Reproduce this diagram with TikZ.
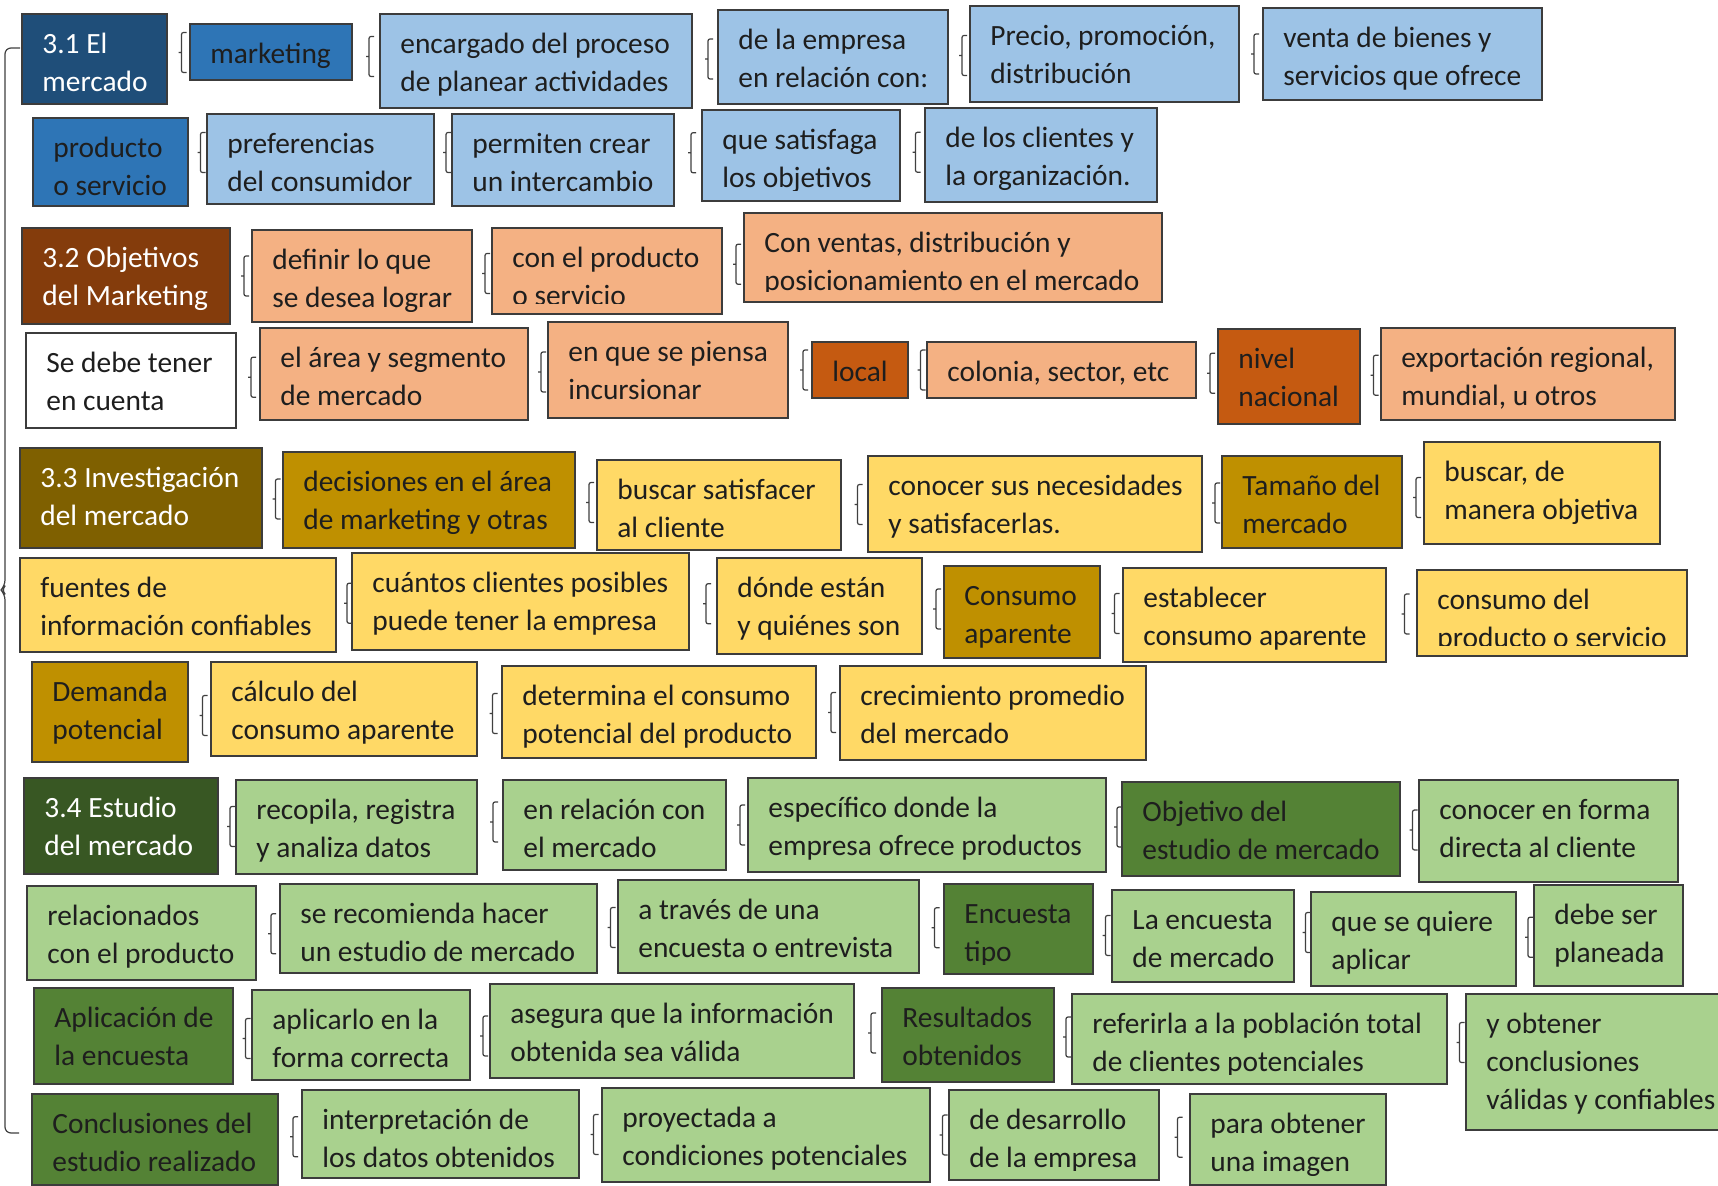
\documentclass[tikz,border=0pt]{standalone}
\usepackage{fontspec}
\setmainfont{Carlito}
\usetikzlibrary{fit,calc}
\definecolor{boxline}{HTML}{3C3C3C}
\definecolor{brccol}{HTML}{404040}
\definecolor{txtdark}{HTML}{1E1E1E}
\definecolor{c31}{HTML}{1F4E79}
\definecolor{cblue}{HTML}{2E75B6}
\definecolor{clblue}{HTML}{9DC3E6}
\definecolor{c32}{HTML}{843C0C}
\definecolor{corange}{HTML}{C55A11}
\definecolor{clorange}{HTML}{F4B183}
\definecolor{c33}{HTML}{7F6000}
\definecolor{cgold}{HTML}{BF9000}
\definecolor{cyellow}{HTML}{FFD966}
\definecolor{c34}{HTML}{385723}
\definecolor{cgreen}{HTML}{548235}
\definecolor{clgreen}{HTML}{A9D18E}
\tikzset{
  boxst/.style={draw=boxline, line width=1pt, inner sep=0pt},
  txtst/.style={anchor=north west, inner sep=0pt, align=left, font=\fontsize{14.7}{19}\selectfont},
  brcline/.style={draw=brccol, line width=0.6pt, rounded corners=1pt},
}
% \bx[textcolor]{name}{x1}{y1}{x2}{y2}{fill}{text}
\newcommand\bx[8][txtdark]{%
  \node[boxst, fill=#7, fit={(#3,#4) (#5,#6)}] (#2) {};
  \begin{scope}
    \clip (#3,#4) rectangle (#5,#6-10);
    \node[txtst, text=#1] (#2-t) at ($(#3,#4)+(20,12.5)$) {\strut #8};
  \end{scope}
}
% \brc[dy]{parent}{child}
\newcommand\brc[3][0]{%
  \draw[brcline] let \p1=(#2.east), \p2=(#3.west) in
    ({(\x1+\x2)/2+4pt},{(\y1+\y2)/2-(#1)*0.5pt+10pt}) --
    ({(\x1+\x2)/2+1.5pt},{(\y1+\y2)/2-(#1)*0.5pt+10pt}) --
    ({(\x1+\x2)/2+1.5pt},{(\y1+\y2)/2-(#1)*0.5pt-10pt}) --
    ({(\x1+\x2)/2+4pt},{(\y1+\y2)/2-(#1)*0.5pt-10pt})
    ({(\x1+\x2)/2},{(\y1+\y2)/2-(#1)*0.5pt}) --
    ({(\x1+\x2)/2+1.5pt},{(\y1+\y2)/2-(#1)*0.5pt});
}
\begin{document}
\begin{tikzpicture}[x=0.5pt,y=-0.5pt]
\fill[white] (0,0) rectangle (1718,1186);
\useasboundingbox (0,0) rectangle (1718,1186);
% Row 1
\bx[white]{a1}{22}{14}{167}{104}{c31}{3.1 El\\mercado}
\bx{a2}{190}{24}{352}{80}{cblue}{marketing}
\bx{a3}{380}{14}{692}{108}{clblue}{encargado del proceso\\de planear actividades}
\bx{a4}{718}{10}{948}{104}{clblue}{de la empresa\\en relación con:}
\bx{a5}{970}{6}{1239}{102}{clblue}{Precio, promoción,\\distribución}
\bx{a6}{1263}{8}{1542}{100}{clblue}{venta de bienes y\\servicios que ofrece}
% Row 2
\bx{b1}{33}{118}{188}{206}{cblue}{producto\\o servicio}
\bx{b2}{207}{114}{434}{204}{clblue}{preferencias\\del consumidor}
\bx{b3}{452}{114}{674}{206}{clblue}{permiten crear\\un intercambio}
\bx{b4}{702}{110}{900}{201}{clblue}{que satisfaga\\los objetivos}
\bx{b5}{925}{108}{1157}{202}{clblue}{de los clientes y\\la organización.}
% Row 3
\bx[white]{c1}{22}{228}{230}{324}{c32}{3.2 Objetivos\\del Marketing}
\bx{c2}{252}{230}{472}{322}{clorange}{definir lo que\\se desea lograr}
\bx{c3}{492}{228}{722}{314}{clorange}{con el producto\\o servicio}
\bx{c4}{744}{213}{1162}{302}{clorange}{Con ventas, distribución y\\posicionamiento en el mercado}
% Row 4
\bx{d1}{26}{333}{236}{428}{white}{Se debe tener\\en cuenta}
\bx{d2}{260}{328}{528}{420}{clorange}{el área y segmento\\de mercado}
\bx{d3}{548}{322}{788}{418}{clorange}{en que se piensa\\incursionar}
\bx{d4}{812}{342}{908}{398}{corange}{local}
\bx{d5}{927}{342}{1196}{398}{clorange}{colonia, sector, etc}
\bx{d6}{1218}{329}{1360}{424}{corange}{nivel\\nacional}
\bx{d7}{1381}{328}{1675}{420}{clorange}{exportación regional,\\mundial, u otros}
% Row 5
\bx[white]{e1}{20}{448}{262}{548}{c33}{3.3 Investigación\\del mercado}
\bx{e2}{283}{452}{575}{548}{cgold}{decisiones en el área\\de marketing y otras}
\bx{e3}{597}{460}{841}{550}{cyellow}{buscar satisfacer\\al cliente}
\bx{e4}{868}{456}{1202}{552}{cyellow}{conocer sus necesidades\\y satisfacerlas.}
\bx{e5}{1222}{456}{1402}{548}{cgold}{Tamaño del\\mercado}
\bx{e6}{1424}{442}{1660}{544}{cyellow}{buscar, de\\manera objetiva}
% Row 6
\bx{f1}{20}{558}{336}{652}{cyellow}{fuentes de\\información confiables}
\bx{f2}{352}{553}{689}{650}{cyellow}{cuántos clientes posibles\\puede tener la empresa}
\bx{f3}{717}{558}{922}{654}{cyellow}{dónde están\\y quiénes son}
\bx{f4}{944}{566}{1100}{658}{cgold}{Consumo\\aparente}
\bx{f5}{1123}{568}{1386}{662}{cyellow}{establecer\\consumo aparente}
\bx{f6}{1417}{570}{1687}{656}{cyellow}{consumo del\\producto o servicio}
% Row 7
\bx{g1}{32}{662}{188}{762}{cgold}{Demanda\\potencial}
\bx{g2}{211}{662}{477}{756}{cyellow}{cálculo del\\consumo aparente}
\bx{g3}{502}{666}{816}{758}{cyellow}{determina el consumo\\potencial del producto}
\bx{g4}{840}{666}{1146}{760}{cyellow}{crecimiento promedio\\del mercado}
% Row 8
\bx[white]{h1}{24}{778}{218}{874}{c34}{3.4 Estudio\\del mercado}
\bx{h2}{236}{780}{477}{874}{clgreen}{recopila, registra\\y analiza datos}
\bx{h3}{503}{780}{726}{870}{clgreen}{en relación con\\el mercado}
\bx{h4}{748}{778}{1106}{872}{clgreen}{específico donde la\\empresa ofrece productos}
\bx{h5}{1122}{782}{1400}{876}{cgreen}{Objetivo del\\estudio de mercado}
\bx{h6}{1419}{780}{1678}{882}{clgreen}{conocer en forma\\directa al cliente}
% Row 9
\bx{i1}{27}{886}{256}{980}{clgreen}{relacionados\\con el producto}
\bx{i2}{280}{884}{597}{973}{clgreen}{se recomienda hacer\\un estudio de mercado}
\bx{i3}{618}{880}{919}{973}{clgreen}{a través de una\\encuesta o entrevista}
\bx{i4}{944}{884}{1093}{974}{cgreen}{Encuesta\\tipo}
\bx{i5}{1112}{890}{1294}{982}{clgreen}{La encuesta\\de mercado}
\bx{i6}{1311}{892}{1516}{986}{clgreen}{que se quiere\\aplicar}
\bx{i7}{1534}{885}{1683}{986}{clgreen}{debe ser\\planeada}
% Row 10
\bx{j1}{34}{988}{233}{1084}{cgreen}{Aplicación de\\la encuesta}
\bx{j2}{252}{990}{470}{1080}{clgreen}{aplicarlo en la\\forma correcta}
\bx{j3}{490}{984}{854}{1078}{clgreen}{asegura que la información\\obtenida sea válida}
\bx{j4}{882}{988}{1054}{1082}{cgreen}{Resultados\\obtenidos}
\bx{j5}{1072}{994}{1447}{1084}{clgreen}{referirla a la población total\\de clientes potenciales}
\bx{j6}{1466}{994}{1722}{1130}{clgreen}{y obtener\\conclusiones\\válidas y confiables}
% Row 11
\bx{k1}{32}{1094}{278}{1185}{cgreen}{Conclusiones del\\estudio realizado}
\bx{k2}{302}{1090}{579}{1178}{clgreen}{interpretación de\\los datos obtenidos}
\bx{k3}{602}{1088}{930}{1182}{clgreen}{proyectada a\\condiciones potenciales}
\bx{k4}{949}{1090}{1159}{1180}{clgreen}{de desarrollo\\de la empresa}
\bx{k5}{1190}{1094}{1386}{1185}{clgreen}{para obtener\\una imagen}
% braces
\brc[-3]{a1}{a2}\brc{a2}{a3}\brc{a3}{a4}\brc{a4}{a5}\brc{a5}{a6}
\brc[-8]{b1}{b2}\brc[-7]{b2}{b3}\brc[-5]{b3}{b4}\brc[-3]{b4}{b5}
\brc{c1}{c2}\brc{c2}{c3}\brc{c3}{c4}
\brc{d1}{d2}\brc{d2}{d3}\brc{d3}{d4}\brc{d4}{d5}\brc{d5}{d6}\brc{d6}{d7}
\brc{e1}{e2}\brc{e2}{e3}\brc{e3}{e4}\brc{e4}{e5}\brc{e5}{e6}
\brc{f1}{f2}\brc{f2}{f3}\brc{f3}{f4}\brc{f4}{f5}\brc{f5}{f6}
\brc[5]{g1}{g2}\brc[3]{g2}{g3}\brc{g3}{g4}
\brc{h1}{h2}\brc[-4]{h2}{h3}\brc{h3}{h4}\brc{h4}{h5}\brc{h5}{h6}
\brc[3]{i1}{i2}\brc{i2}{i3}\brc{i3}{i4}\brc[3]{i4}{i5}\brc[-5]{i5}{i6}\brc{i6}{i7}
\brc[3]{j1}{j2}\brc[3]{j2}{j3}\brc{j3}{j4}\brc{j4}{j5}\brc[-8]{j5}{j6}
\brc{k1}{k2}\brc{k2}{k3}\brc{k3}{k4}\brc{k4}{k5}
% big left brace
\coordinate (bt) at (20,48);
\coordinate (bb) at (19,1133);
\draw[brcline, rounded corners=3pt] (bt) -- (5,48) -- (5,586) -- (1,590) -- (5,594) -- (5,1133) -- (bb);
\end{tikzpicture}
\end{document}
